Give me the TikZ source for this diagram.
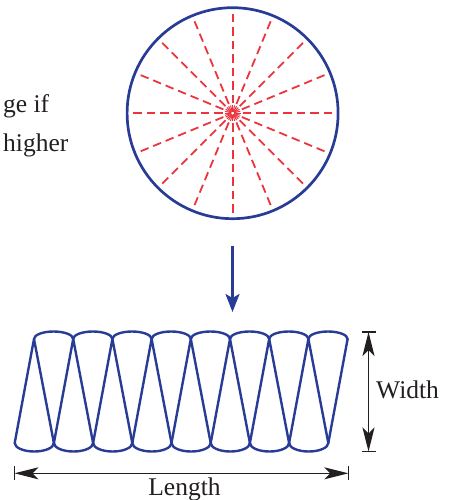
\documentclass[tikz,border=0pt]{standalone}
\usepackage{fontspec}
\setmainfont{Liberation Serif}
\usetikzlibrary{arrows.meta, positioning, calc}
\definecolor{dBlue} {RGB}{40,60,150}
\definecolor{lRed}  {RGB}{236,52,62}
\definecolor{dkGray}{RGB}{35,31,32}

\begin{document}
\begin{tikzpicture}[x=1pt, y=-1pt, font={\rmfamily\fontsize{25.5}{30}\selectfont},
    RAY/.style={lRed, line width=1.8pt, dash pattern=on 8.5pt off 5pt},
    BURST/.style={lRed, line width=1pt},
    FOLD/.style={dBlue, line width=2.4pt, line join=round, line cap=round},
    ARR/.style={-{Stealth[length=18pt,width=14pt,inset=4pt]}, line width=2.5pt, dBlue},
    DIM/.style={{Stealth[length=24pt,width=12pt,inset=6pt]}-{Stealth[length=24pt,width=12pt,inset=6pt]}, line width=1.2pt, dkGray},
    TICK/.style={line width=1.2pt, dkGray},
    LBL/.style={inner sep=0pt, text=dkGray}]
    \useasboundingbox (0,0) rectangle (452,500);
    \node[LBL, anchor=base west] (txtA) at (3,113) {ge if};
    \node[LBL, anchor=base west] (txtB) at (3,151) {higher};
    \node[circle, draw=dBlue, line width=2.7pt, minimum size=211pt, inner sep=0pt] (drum) at (232.6,113.2) {};
    \foreach \a in {0,22.5,...,337.5} \draw[RAY] (drum.center) ++(\a:10) -- ++(\a:91);
    \foreach \a in {0,15,...,345} \draw[BURST] (drum.center) ++(\a:1.5) -- ++(\a:6.5);
    \coordinate (arrA) at (232.5,246); \coordinate (arrB) at (232.5,312);
    \draw[ARR] (arrA) -- (arrB);
    \foreach \i in {0,...,7}{
        \pgfmathsetmacro\bx{14.7+39.2*\i}
        \pgfmathsetmacro\tx{34.0+39.2*\i}
        \pgfmathsetmacro\nx{53.9+39.2*\i}
        \draw[FOLD] (\bx,443) -- (\tx,339) -- (\nx,443);
        \draw[FOLD] (\tx,339) arc[start angle=180, end angle=0, x radius=19.6pt, y radius=7.5pt];
        \draw[FOLD] (\bx,443) arc[start angle=180, end angle=360, x radius=19.6pt, y radius=8.5pt];
    }
    \draw[FOLD] (328.3,443) -- (347.6,339);
    \coordinate (wTop) at (368.5,332); \coordinate (wBot) at (368.5,451.5);
    \draw[DIM] (wTop) -- (wBot);
    \draw[TICK] ($(wTop)+(-7,0)$) -- ($(wTop)+(7,0)$);
    \draw[TICK] ($(wBot)+(-7,0)$) -- ($(wBot)+(7,0)$);
    \coordinate (lLeft) at (14.5,473.3); \coordinate (lRight) at (348.3,473.3);
    \draw[DIM] (lLeft) -- (lRight);
    \draw[TICK] ($(lLeft)+(0,-7)$) -- ($(lLeft)+(0,7)$);
    \draw[TICK] ($(lRight)+(0,-7)$) -- ($(lRight)+(0,7)$);
    \node[LBL, anchor=base west] (wLbl) at (376,398) {Width};
    \node[LBL, anchor=base] (lLbl) at (184.5,495.7) {Length};
\end{tikzpicture}
\end{document}
